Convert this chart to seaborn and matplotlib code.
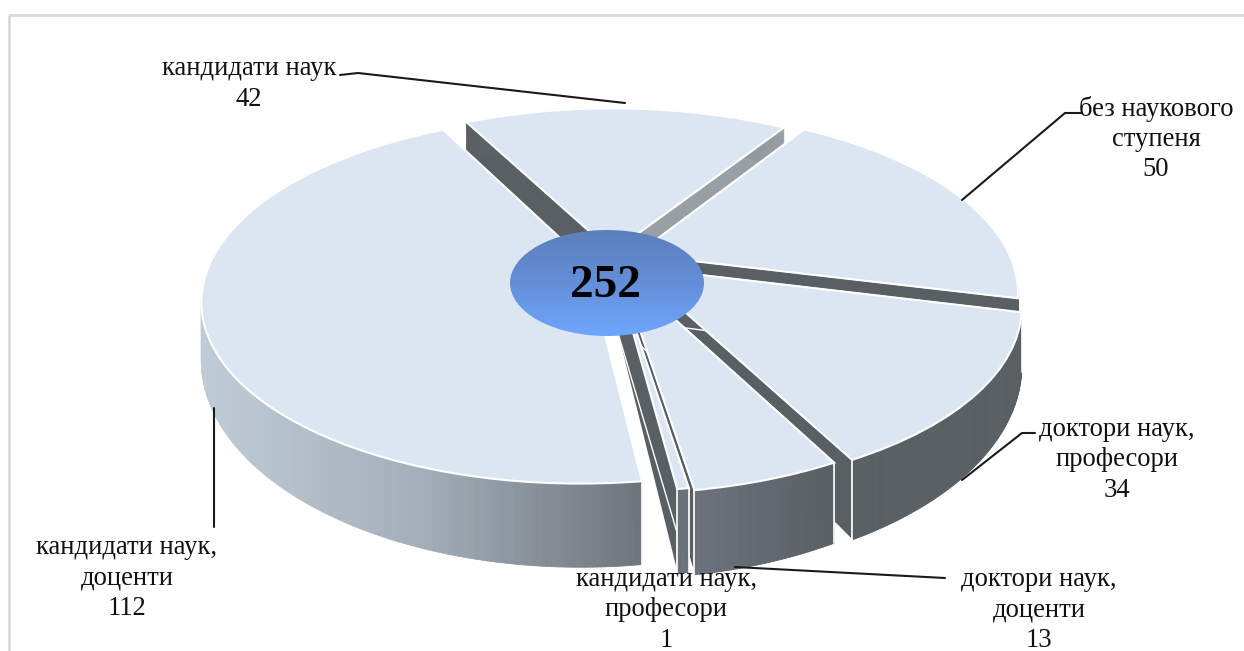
import numpy as np
import matplotlib
matplotlib.use("Agg")
import matplotlib.pyplot as plt
from matplotlib.transforms import Transform
from matplotlib.patches import Ellipse
import seaborn as sns

labels = ["кандидати наук\n42", "без наукового\nступеня\n50", "доктори наук,\nпрофесори\n34",
          "доктори наук,\nдоценти\n13", "кандидати наук,\nпрофесори\n1", "кандидати наук,\nдоценти\n112"]
values = [42, 50, 34, 13, 1, 112]
explode = [0.04, 0.07, 0.075, 0.06, 0.05, 0.07]
total_label = "252"

label_xy = [(249, 84), (1156, 139), (1117, 460), (1039, 610), (666, 610), (127, 578)]
leaders = [[(340, 75), (358, 73), (625, 103)],
           [(1082, 113), (1065, 113), (962, 200)],
           [(1035, 433), (1022, 433), (962, 480)],
           [(945, 578), (735, 567)],
           [],
           [(214, 408), (214, 527)]]

TOP = "#DCE6F2"
DARK = "#5A5F63"
GREY = "#98A0A6"
rim_ramps = [[DARK, GREY], [DARK, DARK], [DARK, DARK],
             ["#6C727C", DARK], ["#6C727C", "#6C727C"], ["#BFCBD5", "#A3AEB8", "#6C737B"]]
right_walls = [GREY, DARK, DARK, DARK, DARK, DARK]
left_walls = [DARK, GREY, DARK, DARK, DARK, DARK]
rim_edges = [False, False, True, True, True, True]
draw_order = [0, 1, 5, 2, 3, 4]

CX, CY, AX_, BY, K, DEPTH = 612.0, 259.0, 375.0, 175.0, 0.2, 53.0


def project(X, Y, drop=0.0):
    w = 1 + K * np.asarray(Y)
    return CX + AX_ * np.asarray(X) / w, CY - BY * np.asarray(Y) / w + drop * DEPTH / w ** 2


class Perspective(Transform):
    input_dims = output_dims = 2
    is_separable = False
    has_inverse = False

    def transform_non_affine(self, values):
        v = np.asarray(values)
        x, y = project(v[:, 0], v[:, 1])
        return np.column_stack([x, y])


sns.set_theme(style="white")
plt.rcParams["font.family"] = ["Liberation Serif", "DejaVu Serif"]
fig = plt.figure(figsize=(12.44, 6.51), dpi=100)
ax = fig.add_axes([0, 0, 1, 1])
wedges, _ = ax.pie(values, explode=explode, startangle=117.5, counterclock=False,
                   colors=[TOP] * len(values), wedgeprops=dict(edgecolor="white", linewidth=1.5))
ax.set_aspect("auto")
ax.set_xlim(0, 1244)
ax.set_ylim(651, 0)
ax.axis("off")
persp = Perspective() + ax.transData

for i in draw_order:
    wd = wedges[i]
    zbase = (draw_order.index(i) + 1) * 3
    c = np.array(wd.center)
    t = np.radians(np.linspace(wd.theta1, wd.theta2, max(int(wd.theta2 - wd.theta1) * 2, 8)))
    rx, ry = c[0] + wd.r * np.cos(t), c[1] + wd.r * np.sin(t)
    # radial faces, drawn behind the rim
    for (ex, ey), col in (((rx[0], ry[0]), right_walls[i]), ((rx[-1], ry[-1]), left_walls[i])):
        xs = np.array([c[0], ex, ex, c[0]])
        ys = np.array([c[1], ey, ey, c[1]])
        px, py = project(xs, ys, np.array([0, 0, 1, 1]))
        ax.fill(px, py, color=col, ec="white", lw=1.0, zorder=zbase)
    # outer rim, shaded left to right
    x0, y0 = project(rx, ry)
    x1, y1 = project(rx, ry, 1.0)
    ramp = sns.blend_palette(rim_ramps[i], 64)
    span = max(x0.max() - x0.min(), 1)
    for a in range(len(t) - 1):
        col = ramp[int((0.5 * (x0[a] + x0[a + 1]) - x0.min()) / span * 63)]
        ax.fill([x0[a], x0[a + 1], x1[a + 1], x1[a]], [y0[a], y0[a + 1], y1[a + 1], y1[a]],
                color=col, lw=0.6, zorder=zbase + 0.5)
    if rim_edges[i]:
        for j in (0, -1):
            ax.plot([x0[j], x1[j]], [y0[j], y1[j]], color="white", lw=1.2, zorder=zbase + 0.6)
    wd.set_transform(persp)
    wd.set_zorder(zbase + 1)

# central disc with a vertical gradient
hole = Ellipse((607, 283), 194, 106, fc="none", ec="none", zorder=50)
ax.add_patch(hole)
grad = sns.blend_palette(["#5B7FBC", "#648FD8", "#6EA6FF"], 128)
im = ax.imshow(np.array(grad)[:, None, :], extent=(510, 704, 336, 230), aspect="auto", zorder=50)
im.set_clip_path(hole)
ax.set_xlim(0, 1244)
ax.set_ylim(651, 0)
ax.text(605, 286, total_label, fontsize=34, fontweight="bold", ha="center", va="center",
        color="black", zorder=51)

for txt, (x, y), line in zip(labels, label_xy, leaders):
    ax.text(x, y, txt, fontsize=19.2, ha="center", va="center", linespacing=1.28,
            color="#111111", zorder=60)
    if line:
        lx, ly = zip(*line)
        ax.plot(lx, ly, color="#1a1a1a", lw=1.5, zorder=55)

# chart frame: only the top and left borders fall inside the picture
ax.plot([8.5, 1244], [15, 15], color="#D9D9D9", lw=2, zorder=1, solid_capstyle="butt")
ax.plot([8.5, 8.5], [15, 651], color="#D9D9D9", lw=2, zorder=1, solid_capstyle="butt")

fig.savefig("out.png", dpi=100)
